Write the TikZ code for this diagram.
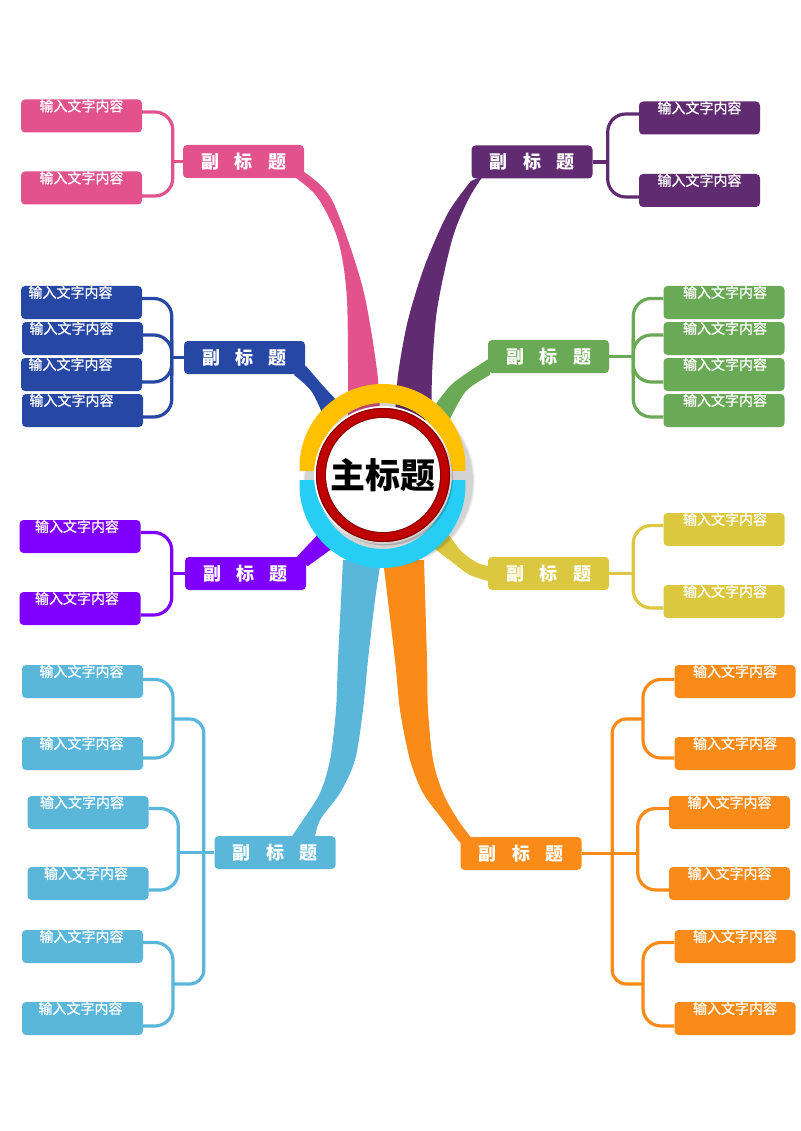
\documentclass[tikz,border=0pt]{standalone}
\usepackage{fontspec}
\newfontfamily\cjk{Noto Sans CJK SC}
\newfontfamily\cjkm[FakeBold=1.2]{Noto Sans CJK SC}
\usetikzlibrary{calc}
\pgfdeclarelayer{back}
\pgfsetlayers{back,main}
\definecolor{pinkc}{HTML}{E2538D}
\definecolor{bluec}{HTML}{2747A5}
\definecolor{purplec}{HTML}{602B70}
\definecolor{greenc}{HTML}{6AAA56}
\definecolor{violetc}{HTML}{8000FF}
\definecolor{yellowc}{HTML}{DCC840}
\definecolor{lbc}{HTML}{5BB7DA}
\definecolor{orangec}{HTML}{FA8B19}
\definecolor{ringY}{HTML}{FFC000}
\definecolor{ringC}{HTML}{26CDF5}
\definecolor{redc}{HTML}{C00000}
\definecolor{darkredc}{HTML}{8A0000}
\newcommand\leafat[5]{%
  \node[leafbox, fill=#2] (#1) at (#3,#4) {};
  \node[leaftext] (#1t) at ($(#1.north)+(#5,12)$) {输入文字内容};
}
\newcommand\subtxt{副\hspace{15.5pt}标\hspace{15.5pt}题}
\begin{document}
\begin{tikzpicture}[x=1pt,y=-1pt,
  subbox/.style={rounded corners=4pt, minimum width=121pt, minimum height=33pt, inner sep=0pt, text=white,
    font=\cjk\bfseries\fontsize{18pt}{18pt}\selectfont},
  leafbox/.style={rounded corners=4pt, minimum width=121pt, minimum height=33pt, inner sep=0pt},
  leaftext/.style={text=white, font=\cjkm\fontsize{14pt}{14pt}\selectfont, inner sep=0pt, anchor=base},
  conn/.style={line width=3.2pt, rounded corners=18pt},
  bigconn/.style={line width=3.2pt, rounded corners=14pt}]
\begin{pgfonlayer}{back}
\fill[white] (0,0) rectangle (800,1131);
\end{pgfonlayer}
\useasboundingbox (0,0) rectangle (800,1131);

% ---------- thick branches ----------
\fill[pinkc] plot[smooth] coordinates {(296,178) (318,198) (338,240) (347,300) (348,420)}
  -- plot[smooth] coordinates {(380,420) (377,370) (362,285) (332,200) (304,172)} -- cycle;
\fill[purplec] plot[smooth] coordinates {(471,181) (448,213) (425,265) (408,320) (398,375) (395,420)}
  -- plot[smooth] coordinates {(432,420) (432,375) (437,310) (452,240) (468,200) (483,176)} -- cycle;
\fill[bluec] plot[smooth] coordinates {(294,375) (312,392) (326,422)}
  -- plot[smooth] coordinates {(348,412) (325,388) (306,366)} -- cycle;
\fill[greenc] plot[smooth] coordinates {(490,358) (467,373) (450,386) (433,408)}
  -- plot[smooth] coordinates {(450,419) (466,391) (490,375)} -- cycle;
\fill[violetc] (294,560) -- (322,530) -- (337,545) -- (308,566) -- cycle;
\fill[yellowc] plot[smooth] coordinates {(445,530) (462,552) (478,563) (492,567)}
  -- plot[smooth] coordinates {(492,582) (470,575) (452,562) (430,545)} -- cycle;
\fill[lbc] plot[smooth] coordinates {(343,560) (338,660) (336,710) (330,760) (320,793) (303,820) (288,842)}
  -- plot[smooth] coordinates {(314,842) (320,820) (340,793) (355,760) (363,710) (368,660) (375,600) (381,560)} -- cycle;
\fill[orangec] plot[smooth] coordinates {(383,560) (395,660) (400,710) (410,760) (423,793) (443,820) (458,840) (465,846)}
  -- plot[smooth] coordinates {(476,844) (458,820) (443,793) (433,760) (428,710) (427,660) (424,560)} -- cycle;

% ---------- sub-title nodes ----------
\node[subbox, fill=pinkc]   (pkS) at (243.5,161.5) {\subtxt};
\node[subbox, fill=bluec]   (blS) at (244.5,357.5) {\subtxt};
\node[subbox, fill=purplec] (prS) at (532,162)     {\subtxt};
\node[subbox, fill=greenc]  (grS) at (548.5,356.5) {\subtxt};
\node[subbox, fill=violetc] (viS) at (245.5,573.5) {\subtxt};
\node[subbox, fill=yellowc] (yeS) at (548.5,573.5) {\subtxt};
\node[subbox, fill=lbc]     (lbS) at (275,852.5)   {\subtxt};
\node[subbox, fill=orangec] (orS) at (521,853.5)   {\subtxt};

% ---------- junction coordinates ----------
\coordinate (pkJ) at ($(pkS.west)+(-10,0)$);
\coordinate (blJ) at ($(blS.west)+(-12,0)$);
\coordinate (prJ) at ($(prS.east)+(15,0)$);
\coordinate (grJ) at ($(grS.east)+(24,0)$);
\coordinate (viJ) at ($(viS.west)+(-13,0)$);
\coordinate (yeJ) at ($(yeS.east)+(24,0)$);
\coordinate (lbJa) at (173,719);
\coordinate (lbJb) at ($(lbS.west)+(-36,0)$);
\coordinate (lbJc) at (173,984);
\coordinate (lbJv) at ($(lbS.west)+(-10.5,0)$);
\coordinate (orJa) at (643,719);
\coordinate (orJb) at ($(orS.east)+(56,0)$);
\coordinate (orJc) at (643,984);
\coordinate (orJv) at ($(orS.east)+(30.5,0)$);

% ---------- leaves ----------
\leafat{pk1}{pinkc}{81.5}{116}{0}
\leafat{pk2}{pinkc}{81.5}{188}{0}
\leafat{bl1}{bluec}{81.5}{302.5}{-11}
\leafat{bl2}{bluec}{82.5}{338.5}{-11}
\leafat{bl3}{bluec}{81.5}{374.5}{-11}
\leafat{bl4}{bluec}{82.5}{410.5}{-11}
\leafat{pr1}{purplec}{699.5}{118}{0}
\leafat{pr2}{purplec}{699.5}{190.5}{0}
\leafat{gr1}{greenc}{724}{302.5}{1}
\leafat{gr2}{greenc}{724}{338.5}{1}
\leafat{gr3}{greenc}{724}{374.5}{1}
\leafat{gr4}{greenc}{724}{410.5}{1}
\leafat{vi1}{violetc}{80}{536.5}{-3}
\leafat{vi2}{violetc}{80}{608.5}{-3}
\leafat{ye1}{yellowc}{724}{529.5}{1}
\leafat{ye2}{yellowc}{724}{601.5}{1}
\leafat{lb1}{lbc}{82.5}{681.5}{-1}
\leafat{lb2}{lbc}{82.5}{753.5}{-1}
\leafat{lb3}{lbc}{88}{812.5}{-6}
\leafat{lb4}{lbc}{88}{883.5}{-2}
\leafat{lb5}{lbc}{82.5}{946.5}{-1}
\leafat{lb6}{lbc}{82.5}{1018.5}{-2}
\leafat{or1}{orangec}{735}{681.5}{0}
\leafat{or2}{orangec}{735}{753.5}{0}
\leafat{or3}{orangec}{729.5}{812.5}{0}
\leafat{or4}{orangec}{729.5}{883.5}{0}
\leafat{or5}{orangec}{735}{946.5}{0}
\leafat{or6}{orangec}{735}{1018.5}{0}

\begin{pgfonlayer}{back}
% pink
\draw[conn, pinkc] ($(pk1.east)+(0,-4)$) -| (pkJ) |- ($(pk2.east)+(0,8)$);
\draw[conn, pinkc] (pkJ) -- (pkS.west);
% blue
\draw[conn, bluec] ($(bl1.east)+(0,-4)$) -| (blJ) |- ($(bl4.east)+(0,6.5)$);
\draw[conn, bluec] ($(bl2.east)+(0,-3.5)$) -| (blJ) |- ($(bl3.east)+(0,7.5)$);
\draw[conn, bluec] (blJ) -- (blS.west);
% purple
\draw[conn, purplec] ($(pr1.west)+(0,-4)$) -| (prJ) |- ($(pr2.west)+(0,6.5)$);
\draw[conn, purplec] (prJ) -- (prS.east);
% green
\draw[conn, greenc] ($(gr1.west)+(0,-4)$) -| (grJ) |- ($(gr4.west)+(0,6.5)$);
\draw[conn, greenc] ($(gr2.west)+(0,-3.5)$) -| (grJ) |- ($(gr3.west)+(0,7.5)$);
\draw[conn, greenc] (grJ) -- (grS.east);
% violet
\draw[conn, violetc] ($(vi1.east)+(0,-4)$) -| (viJ) |- ($(vi2.east)+(0,6.5)$);
\draw[conn, violetc] (viJ) -- (viS.west);
% yellow
\draw[conn, yellowc] ($(ye1.west)+(0,-4)$) -| (yeJ) |- ($(ye2.west)+(0,6.5)$);
\draw[conn, yellowc] (yeJ) -- (yeS.east);
% light blue
\draw[conn, lbc] ($(lb1.east)+(0,-2)$) -| (lbJa) |- ($(lb2.east)+(0,4.5)$);
\draw[conn, lbc] ($(lb3.east)+(0,-4)$) -| (lbJb) |- ($(lb4.east)+(0,6.5)$);
\draw[conn, lbc] ($(lb5.east)+(0,-4)$) -| (lbJc) |- ($(lb6.east)+(0,7.5)$);
\draw[bigconn, lbc] (lbJa) -| (lbJv) |- (lbJc);
\draw[conn, lbc] (lbJb) -- (lbS.west);
% orange
\draw[conn, orangec] ($(or1.west)+(0,-2)$) -| (orJa) |- ($(or2.west)+(0,4.5)$);
\draw[conn, orangec] ($(or3.west)+(0,-4)$) -| (orJb) |- ($(or4.west)+(0,6.5)$);
\draw[conn, orangec] ($(or5.west)+(0,-4)$) -| (orJc) |- ($(or6.west)+(0,7.5)$);
\draw[bigconn, orangec] (orJa) -| (orJv) |- (orJc);
\draw[conn, orangec] (orJb) -- (orS.east);
\end{pgfonlayer}

% ---------- central ring ----------
\foreach \r/\o in {86/0.04, 85/0.06, 84/0.08} {
  \fill[black, opacity=\o] (389,481) circle[radius=\r pt];
}
\begin{scope}
  \clip (280,360) rectangle (490,470);
  \fill[ringY, even odd rule] (382.5,467) circle[radius=83pt] (382.5,467) circle[radius=64pt];
\end{scope}
\begin{scope}
  \clip (280,480) rectangle (490,590);
  \fill[ringC, even odd rule] (382.5,485) circle[radius=83pt] (382.5,485) circle[radius=64pt];
\end{scope}
\fill[white] (383,475) circle[radius=69pt];
\fill[black, opacity=0.18] (385.5,478) circle[radius=67.5pt];
\fill[redc] (383,475) circle[radius=67pt];
\draw[darkredc, line width=1.2pt] (383,475) circle[radius=66.4pt];
\draw[darkredc, line width=1.2pt] (383,475) circle[radius=57.6pt];
\node[circle, fill=white, minimum size=114pt, inner sep=0pt, text=black,
  font=\cjk\bfseries\fontsize{35pt}{35pt}\selectfont] (main) at (383,475) {主标题};
\end{tikzpicture}
\end{document}
